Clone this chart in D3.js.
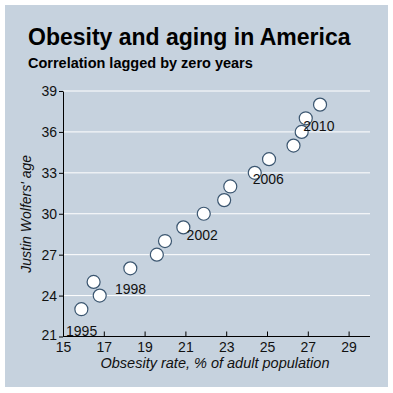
<!DOCTYPE html>
<html lang="en">
<head>
<meta charset="UTF-8">
<script src="https://cdn.jsdelivr.net/npm/d3@7"></script>
<style>
  body { margin: 0; background: #fff; }
  svg { display: block; font-family: "Liberation Sans", Arial, sans-serif; }
</style>
</head>
<body>
<svg width="393" height="393"></svg>
<script>
// one point per year, 1995..2010
const years = [1995, 1996, 1997, 1998, 1999, 2000, 2001, 2002, 2003, 2004, 2005, 2006, 2007, 2008, 2009, 2010];
const obesity = [15.9, 16.8, 16.5, 18.3, 19.6, 20.0, 20.9, 21.9, 22.9, 23.2, 24.4, 25.1, 26.3, 26.7, 26.9, 27.6];
const age = [23, 24, 25, 26, 27, 28, 29, 30, 31, 32, 33, 34, 35, 36, 37, 38];

// year labels, placed in data units
const labelText = ["1995", "1998", "2002", "2006", "2010"];
const labelX = [15.15, 17.55, 21.06, 24.3, 26.78];
const labelY = [21.07, 24.1, 28.07, 32.2, 36.1];

const xTicks = [15, 17, 19, 21, 23, 25, 27, 29];
const yTicks = [21, 24, 27, 30, 33, 36, 39];

const svg = d3.select("svg");

svg.append("rect")
    .attr("x", 5).attr("y", 5)
    .attr("width", 383).attr("height", 382)
    .attr("fill", "#c6d2de");

svg.append("text")
    .attr("x", 28).attr("y", 45)
    .attr("font-size", 23).attr("font-weight", "bold")
    .text("Obesity and aging in America");

svg.append("text")
    .attr("x", 28).attr("y", 68)
    .attr("font-size", 14.5).attr("font-weight", "bold")
    .text("Correlation lagged by zero years");

const x = d3.scaleLinear().domain([15, 30]).range([63, 369]);
const y = d3.scaleLinear().domain([21, 39]).range([336.5, 91]);

// gridlines
svg.append("g")
  .selectAll("line")
  .data(yTicks.filter(d => d > 21))
  .join("line")
    .attr("x1", x(15)).attr("x2", 370)
    .attr("y1", d => y(d)).attr("y2", d => y(d))
    .attr("stroke", "#fff").attr("stroke-width", 1);

const xAxis = svg.append("g")
    .attr("transform", `translate(0,${y(21)})`)
    .call(d3.axisBottom(x).tickValues(xTicks).tickSize(-5).tickSizeOuter(0).tickPadding(5.5));
xAxis.select(".domain").attr("d", `M${x(15)},0H370`);

const yAxis = svg.append("g")
    .attr("transform", `translate(${x(15)},0)`)
    .call(d3.axisLeft(y).tickValues(yTicks).tickSize(4).tickSizeOuter(0).tickPadding(2));

svg.selectAll(".tick text").attr("font-size", 14).attr("fill", "#111")
    .attr("font-family", "Liberation Sans, Arial, sans-serif");
svg.selectAll(".domain, .tick line").attr("stroke", "#000");
yAxis.selectAll(".tick:first-of-type text").attr("dy", "0.2em");

svg.append("text")
    .attr("x", 215).attr("y", 368)
    .attr("text-anchor", "middle")
    .attr("font-size", 14.5).attr("font-style", "italic")
    .attr("fill", "#111")
    .text("Obsesity rate, % of adult population");

svg.append("text")
    .attr("transform", `translate(31,${(y(21) + y(39)) / 2}) rotate(-90)`)
    .attr("text-anchor", "middle")
    .attr("font-size", 14).attr("font-style", "italic")
    .attr("fill", "#111")
    .text("Justin Wolfers' age");

const pts = years.map((yr, i) => ({year: yr, ob: obesity[i], age: age[i]}));

svg.append("g")
  .selectAll("circle")
  .data(pts)
  .join("circle")
    .attr("cx", d => x(d.ob))
    .attr("cy", d => y(d.age))
    .attr("r", 6.5)
    .attr("fill", "#fff")
    .attr("stroke", "#3b5670")
    .attr("stroke-width", 1.2);

svg.append("g")
  .selectAll("text")
  .data(labelText)
  .join("text")
    .attr("x", (d, i) => x(labelX[i]))
    .attr("y", (d, i) => y(labelY[i]))
    .attr("font-size", 14)
    .attr("fill", "#111")
    .text(d => d);
</script>
</body>
</html>
